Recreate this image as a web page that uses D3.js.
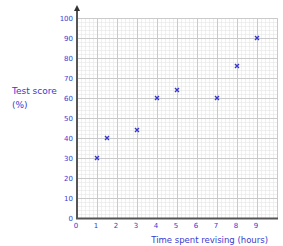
<!DOCTYPE html>
<html>
<head>
<meta charset="utf-8">
<script src="https://cdn.jsdelivr.net/npm/d3@7"></script>
<style>
  body { margin: 0; background: #fff; }
  svg { display: block; }
  text { font-family: "Comic Sans MS", "DejaVu Sans", sans-serif; fill: #3a3ad0; }
</style>
</head>
<body>
<script>
// data
var hours = [1, 1.5, 3, 4, 5, 7, 8, 9];
var scores = [30, 40, 44, 60, 64, 60, 76, 90];
var xTicks = [0, 1, 2, 3, 4, 5, 6, 7, 8, 9];
var yTicks = [0, 10, 20, 30, 40, 50, 60, 70, 80, 90, 100];

var width = 283, height = 246;
var gLeft = 77, gRight = 277, gTop = 18, gBottom = 218;

var svg = d3.select("body").append("svg")
    .attr("width", width)
    .attr("height", height);

var x = d3.scaleLinear().domain([0, 10]).range([gLeft, gRight]);
var y = d3.scaleLinear().domain([0, 100]).range([gBottom, gTop]);

// graph paper: minor every 0.2 h / 2 %, major every 1 h / 10 %
var g = svg.append("g");
var minorX = d3.range(0, 10.01, 0.2), minorY = d3.range(0, 100.1, 2);
g.selectAll(".mx").data(minorX).enter().append("line")
    .attr("x1", d => Math.round(x(d)) + 0.5).attr("x2", d => Math.round(x(d)) + 0.5)
    .attr("y1", gTop).attr("y2", gBottom)
    .attr("stroke", "#e6e6e6").attr("stroke-width", 0.6);
g.selectAll(".my").data(minorY).enter().append("line")
    .attr("y1", d => Math.round(y(d)) + 0.5).attr("y2", d => Math.round(y(d)) + 0.5)
    .attr("x1", gLeft).attr("x2", gRight)
    .attr("stroke", "#e6e6e6").attr("stroke-width", 0.6);
g.selectAll(".Mx").data(d3.range(0, 11)).enter().append("line")
    .attr("x1", d => Math.round(x(d)) + 0.5).attr("x2", d => Math.round(x(d)) + 0.5)
    .attr("y1", gTop).attr("y2", gBottom)
    .attr("stroke", "#cacaca").attr("stroke-width", 1);
g.selectAll(".My").data(d3.range(0, 101, 10)).enter().append("line")
    .attr("y1", d => Math.round(y(d)) + 0.5).attr("y2", d => Math.round(y(d)) + 0.5)
    .attr("x1", gLeft).attr("x2", gRight)
    .attr("stroke", "#cacaca").attr("stroke-width", 1);

// axes lines
svg.append("line")
    .attr("x1", x(0)).attr("x2", x(0))
    .attr("y1", y(0) + 1).attr("y2", 9)
    .attr("stroke", "#555").attr("stroke-width", 2);
svg.append("path")
    .attr("d", "M" + x(0) + ",5 L" + (x(0) - 3) + ",11 L" + (x(0) + 3) + ",11 Z")
    .attr("fill", "#333");
svg.append("line")
    .attr("x1", x(0) - 1).attr("x2", gRight + 1)
    .attr("y1", y(0) + 0.5).attr("y2", y(0) + 0.5)
    .attr("stroke", "#555").attr("stroke-width", 2);

// tick labels
svg.selectAll(".yl").data(yTicks).enter().append("text")
    .attr("x", 73).attr("y", d => y(d) + 2.5)
    .attr("text-anchor", "end")
    .attr("font-size", "7px")
    .text(d => d);
svg.selectAll(".xl").data(xTicks).enter().append("text")
    .attr("x", d => x(d) - 1).attr("y", 228)
    .attr("text-anchor", "middle")
    .attr("font-size", "7px")
    .text(d => d);

// axis titles
svg.append("text").attr("x", 12).attr("y", 94)
    .attr("font-size", "9px").text("Test score");
svg.append("text").attr("x", 12).attr("y", 108)
    .attr("font-size", "9px").text("(%)");
svg.append("text").attr("x", 268).attr("y", 243)
    .attr("text-anchor", "end")
    .attr("font-size", "8.5px").text("Time spent revising (hours)");

// crosses
var s = 2;
var pts = svg.selectAll(".pt").data(hours).enter().append("g")
    .attr("transform", (d, i) => "translate(" + x(d) + "," + y(scores[i]) + ")");
pts.append("path")
    .attr("d", "M" + -s + "," + -s + "L" + s + "," + s + "M" + -s + "," + s + "L" + s + "," + -s)
    .attr("stroke", "#3535d0").attr("stroke-width", 1.4);
</script>
</body>
</html>
